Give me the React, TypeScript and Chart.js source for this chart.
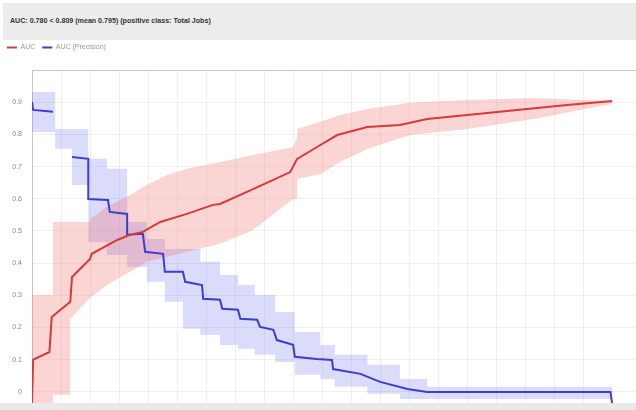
import { useEffect, useRef } from 'react';
import { Chart, registerables } from 'chart.js';
Chart.register(...registerables);

const TITLE = 'AUC: 0.780 < 0.809 (mean 0.795) (positive class: Total Jobs)';
const seriesNames = ['AUC', 'AUC (Precision)'];
const yTickValues = [0, 0.1, 0.2, 0.3, 0.4, 0.5, 0.6, 0.7, 0.8, 0.9];
const yTickLabels = ['0', '0.1', '0.2', '0.3', '0.4', '0.5', '0.6', '0.7', '0.8', '0.9'];

// AUC curve
const redX = [0, 0.002, 0.03, 0.034, 0.066, 0.069, 0.1, 0.103, 0.147, 0.169, 0.191, 0.221, 0.267, 0.312, 0.324, 0.381, 0.445, 0.457, 0.497, 0.526, 0.578, 0.634, 0.681, 0.75, 0.836, 0.922, 1.0];
const redY = [-0.037, 0.1, 0.124, 0.233, 0.28, 0.357, 0.413, 0.429, 0.472, 0.488, 0.497, 0.528, 0.553, 0.581, 0.584, 0.63, 0.683, 0.724, 0.767, 0.798, 0.823, 0.829, 0.848, 0.86, 0.876, 0.891, 0.904];
// AUC band
const redBandX = [0, 0.036, 0.036, 0.066, 0.066, 0.1, 0.1, 0.129, 0.169, 0.198, 0.233, 0.267, 0.324, 0.381, 0.45, 0.457, 0.457, 0.497, 0.531, 0.578, 0.652, 0.75, 0.864, 1.0];
const redHi = [0.301, 0.301, 0.528, 0.528, 0.528, 0.528, 0.537, 0.575, 0.612, 0.643, 0.674, 0.693, 0.714, 0.736, 0.761, 0.79, 0.817, 0.839, 0.86, 0.879, 0.898, 0.907, 0.913, 0.904];
const redLo = [-0.04, -0.04, -0.009, -0.009, 0.227, 0.292, 0.292, 0.332, 0.373, 0.404, 0.419, 0.435, 0.46, 0.503, 0.599, 0.599, 0.661, 0.677, 0.714, 0.755, 0.798, 0.817, 0.848, 0.894];

// AUC (Precision) curve
const blueX = [0, 0.002, 0.036, 0.05, 0.069, 0.097, 0.097, 0.131, 0.134, 0.164, 0.164, 0.191, 0.195, 0.226, 0.229, 0.26, 0.264, 0.293, 0.295, 0.324, 0.328, 0.355, 0.359, 0.388, 0.393, 0.416, 0.422, 0.45, 0.453, 0.491, 0.517, 0.519, 0.566, 0.6, 0.647, 0.681, 0.997, 1.0];
const blueY = [0.901, 0.876, 0.87, null, 0.73, 0.724, 0.599, 0.596, 0.559, 0.553, 0.488, 0.491, 0.435, 0.429, 0.373, 0.373, 0.342, 0.332, 0.289, 0.286, 0.258, 0.255, 0.227, 0.224, 0.202, 0.193, 0.161, 0.146, 0.109, 0.102, 0.099, 0.071, 0.056, 0.031, 0.009, 0, 0, -0.037];
// AUC (Precision) band
const blueBandX = [0, 0.04, 0.069, 0.097, 0.129, 0.164, 0.198, 0.229, 0.26, 0.29, 0.324, 0.355, 0.384, 0.419, 0.453, 0.497, 0.522, 0.578, 0.634, 0.681, 1.0];
const blueHi = [0.932, 0.817, 0.817, 0.724, 0.693, 0.528, 0.475, 0.444, 0.444, 0.404, 0.363, 0.332, 0.301, 0.248, 0.186, 0.146, 0.115, 0.084, 0.04, 0.016, 0.009];
const blueLo = [0.807, 0.755, 0.643, 0.466, 0.425, 0.388, 0.342, 0.28, 0.196, 0.177, 0.146, 0.134, 0.115, 0.093, 0.053, 0.04, 0.016, -0.006, -0.022, -0.022, -0.022];

const RED = 'rgb(214,58,58)';
const BLUE = 'rgb(62,62,205)';
const RED_BAND = 'rgba(240,100,100,0.28)';
const BLUE_BAND = 'rgba(110,110,240,0.25)';
const GRID = 'rgba(0,0,0,0.06)';
const FONT = 'Liberation Sans, Arial, sans-serif';

export default function App() {
  const ref = useRef<HTMLCanvasElement>(null);
  useEffect(() => {
    document.body.style.margin = '0';
    const pts = (xs: number[], ys: (number | null)[]) => xs.map((x, i) => ({ x, y: ys[i] }));
    const chart = new Chart(ref.current as HTMLCanvasElement, {
      type: 'line',
      data: {
        datasets: [
          { label: seriesNames[0], data: pts(redX, redY), borderColor: RED, backgroundColor: RED, borderWidth: 2, pointRadius: 0, fill: false, order: 0 },
          { label: seriesNames[1], data: pts(blueX, blueY), borderColor: BLUE, backgroundColor: BLUE, borderWidth: 2, pointRadius: 0, fill: false, order: 0 },
          { label: 'lo1', data: pts(redBandX, redLo), borderWidth: 0, borderColor: 'rgba(0,0,0,0)', pointRadius: 0, fill: false, order: 1 },
          { label: 'hi1', data: pts(redBandX, redHi), borderWidth: 0, borderColor: 'rgba(0,0,0,0)', backgroundColor: RED_BAND, pointRadius: 0, fill: 2, order: 1 },
          { label: 'lo2', data: pts(blueBandX, blueLo), stepped: true, borderWidth: 0, borderColor: 'rgba(0,0,0,0)', pointRadius: 0, fill: false, order: 1 },
          { label: 'hi2', data: pts(blueBandX, blueHi), stepped: true, borderWidth: 0, borderColor: 'rgba(0,0,0,0)', backgroundColor: BLUE_BAND, pointRadius: 0, fill: 4, order: 1 },
        ] as any,
      },
      options: {
        animation: false,
        responsive: false,
        maintainAspectRatio: false,
        layout: { padding: 0 },
        plugins: {
          legend: {
            position: 'top',
            align: 'start',
            labels: {
              filter: (item: any) => item.datasetIndex < 2,
              usePointStyle: true,
              pointStyle: 'line',
              pointStyleWidth: 10,
              font: { size: 7, family: FONT },
              color: '#999',
              padding: 7,
            },
          },
          tooltip: { enabled: false },
        },
        scales: {
          x: {
            type: 'linear', min: 0, max: 1.041,
            ticks: { display: false, stepSize: 0.05 },
            grid: { color: GRID, drawTicks: false },
            border: { display: false },
            afterFit: (s: any) => { s.height = 0; },
          },
          xTop: {
            type: 'linear', position: 'top', min: 0, max: 1.041,
            ticks: { display: false },
            grid: { display: false, drawTicks: false },
            border: { display: true, color: '#c8c8c8', width: 1 },
            afterFit: (s: any) => { s.height = 9; },
          },
          y: {
            min: -0.037, max: 1,
            ticks: {
              stepSize: 0.1,
              font: { size: 7, family: FONT },
              color: '#888',
              padding: 10,
              callback: (v: any) => {
                const i = yTickValues.findIndex((t) => Math.abs(t - v) < 1e-6);
                return i >= 0 ? yTickLabels[i] : '';
              },
            },
            grid: { color: GRID, drawTicks: false },
            border: { color: '#c8c8c8' },
            afterFit: (s: any) => { s.width = 32; },
          },
        } as any,
      },
    });
    return () => chart.destroy();
  }, []);

  return (
    <div style={{ position: 'relative', width: 636, height: 410, overflow: 'hidden', background: '#fff', fontFamily: FONT }}>
      <div style={{ position: 'absolute', top: 3, left: 3, width: 633, height: 37, background: '#ececec' }}>
        <div style={{ position: 'absolute', left: 7, top: 0, lineHeight: '37px', fontSize: 7.1, fontWeight: 'bold', color: '#333', whiteSpace: 'nowrap' }}>{TITLE}</div>
      </div>
      <canvas ref={ref} width={636} height={381} style={{ position: 'absolute', top: 37, left: 0, display: 'block' }} />
      <div style={{ position: 'absolute', top: 403, left: 0, width: 636, height: 7, background: '#e9e9e9' }} />
    </div>
  );
}
